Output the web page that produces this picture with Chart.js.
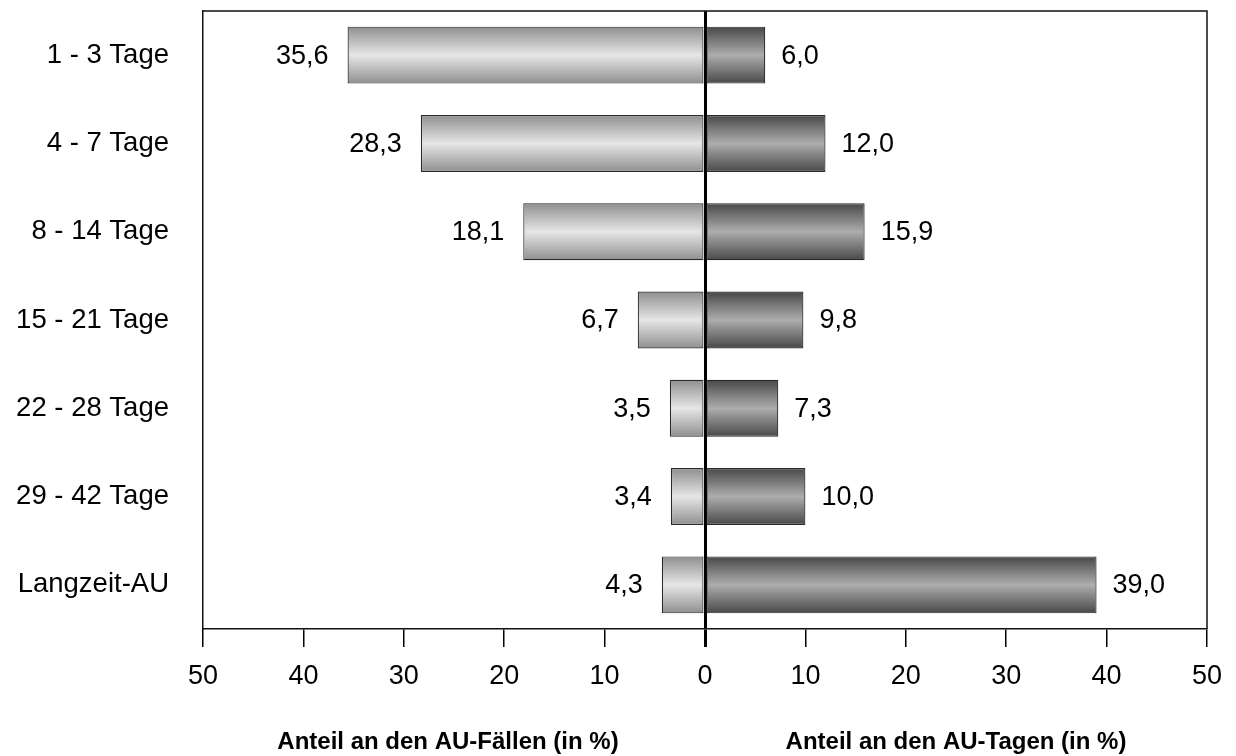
<!DOCTYPE html>
<html>
<head>
<meta charset="utf-8">
<script src="https://cdn.jsdelivr.net/npm/chart.js@4/dist/chart.umd.min.js"></script>
<style>
  html, body { margin: 0; padding: 0; background: #fff; }
  #wrap { position: relative; width: 1236px; height: 756px; }
</style>
</head>
<body>
<div id="wrap"><canvas id="c" width="1236" height="756"></canvas></div>
<script>
const categories = ['1 - 3 Tage', '4 - 7 Tage', '8 - 14 Tage', '15 - 21 Tage', '22 - 28 Tage', '29 - 42 Tage', 'Langzeit-AU'];
const faelle = [35.6, 28.3, 18.1, 6.7, 3.5, 3.4, 4.3];   // Anteil an den AU-Fällen (left)
const tage   = [6.0, 12.0, 15.9, 9.8, 7.3, 10.0, 39.0];  // Anteil an den AU-Tagen (right)
const xTicks = [-50, -40, -30, -20, -10, 0, 10, 20, 30, 40, 50];
const axisTitles = ['Anteil an den AU-Fällen (in %)', 'Anteil an den AU-Tagen (in %)'];

const FONT = 'Arial, "Liberation Sans", sans-serif';
const FS = 27;
const CAT_PCT = 0.645;

function barGradient(ctx, light) {
  const chart = ctx.chart;
  const ys = chart.scales.y;
  if (!chart.chartArea || !ys || ctx.dataIndex === undefined) return light ? '#cccccc' : '#888888';
  const cy = ys.getPixelForValue(ctx.dataIndex);
  const half = (ys.height / categories.length) * CAT_PCT / 2;
  const g = chart.ctx.createLinearGradient(0, cy - half, 0, cy + half);
  if (light) {
    g.addColorStop(0, '#8f8f8f');
    g.addColorStop(0.5, '#e6e6e6');
    g.addColorStop(1, '#8f8f8f');
  } else {
    g.addColorStop(0, '#484848');
    g.addColorStop(0.5, '#adadad');
    g.addColorStop(1, '#484848');
  }
  return g;
}

const boxPlugin = {
  id: 'box',
  afterDraw(chart) {
    const { ctx, chartArea: a } = chart;
    ctx.save();
    ctx.strokeStyle = '#111';
    ctx.lineWidth = 1.5;
    ctx.beginPath();
    ctx.moveTo(a.left, a.top); ctx.lineTo(a.right, a.top); ctx.lineTo(a.right, a.bottom);
    ctx.stroke();
    ctx.restore();
  }
};

const labelPlugin = {
  id: 'valueLabels',
  afterDraw(chart) {
    const ctx = chart.ctx;
    ctx.save();
    ctx.font = FS + 'px ' + FONT;
    ctx.fillStyle = '#000';
    ctx.textBaseline = 'middle';
    chart.data.datasets.forEach((ds, di) => {
      const meta = chart.getDatasetMeta(di);
      meta.data.forEach((bar, i) => {
        const v = Math.abs(ds.data[i]).toFixed(1).replace('.', ',');
        if (di === 0) { ctx.textAlign = 'right'; ctx.fillText(v, bar.x - 19, bar.y + 1); }
        else { ctx.textAlign = 'left'; ctx.fillText(v, bar.x + 16, bar.y + 1); }
      });
    });
    // axis titles
    const a = chart.chartArea;
    const x0 = chart.scales.x.getPixelForValue(0);
    ctx.font = 'bold 24px ' + FONT;
    ctx.textAlign = 'center';
    ctx.textBaseline = 'alphabetic';
    ctx.fillText(axisTitles[0], (a.left + x0) / 2 - 6, 749);
    ctx.fillText(axisTitles[1], (x0 + a.right) / 2, 749);
    ctx.restore();
  }
};

new Chart(document.getElementById('c'), {
  type: 'bar',
  data: {
    labels: categories,
    datasets: [
      {
        label: axisTitles[0],
        data: faelle.map(v => -v),
        backgroundColor: ctx => barGradient(ctx, true),
        borderColor: '#2a2a2a',
        borderWidth: 1.2,
        borderSkipped: false
      },
      {
        label: axisTitles[1],
        data: tage,
        backgroundColor: ctx => barGradient(ctx, false),
        borderColor: '#2a2a2a',
        borderWidth: 1.2,
        borderSkipped: false
      }
    ]
  },
  options: {
    indexAxis: 'y',
    responsive: false,
    animation: false,
    devicePixelRatio: 1,
    layout: { padding: { left: 0, right: 29, top: 11, bottom: 0 } },
    datasets: { bar: { barPercentage: 1, categoryPercentage: CAT_PCT } },
    plugins: { legend: { display: false }, tooltip: { enabled: false } },
    scales: {
      x: {
        type: 'linear',
        min: -50, max: 50,
        z: 1,
        afterBuildTicks: s => { s.ticks = xTicks.map(v => ({ value: v })); },
        afterFit: s => { s.height = 756 - 11 - 618; s.paddingLeft = 0; s.paddingRight = 0; },
        ticks: {
          font: { size: FS, family: FONT },
          color: '#000',
          padding: 13,
          maxRotation: 0,
          callback: v => String(Math.abs(v))
        },
        grid: {
          drawOnChartArea: true,
          color: c => (c.tick && c.tick.value === 0) ? '#000' : 'rgba(0,0,0,0)',
          lineWidth: c => (c.tick && c.tick.value === 0) ? 3 : 1.5,
          tickColor: '#000',
          tickWidth: c => (c.tick && c.tick.value === 0) ? 3 : 1.5,
          tickLength: 18
        },
        border: { display: true, color: '#111', width: 1.5 }
      },
      y: {
        stacked: true,
        afterFit: s => { s.width = 203; s.paddingTop = 0; s.paddingBottom = 0; },
        ticks: {
          font: { size: 27.5, family: FONT },
          color: '#000',
          padding: 34
        },
        grid: { display: false, drawTicks: false },
        border: { display: true, color: '#111', width: 1.5 }
      }
    }
  },
  plugins: [boxPlugin, labelPlugin]
});
</script>
</body>
</html>
